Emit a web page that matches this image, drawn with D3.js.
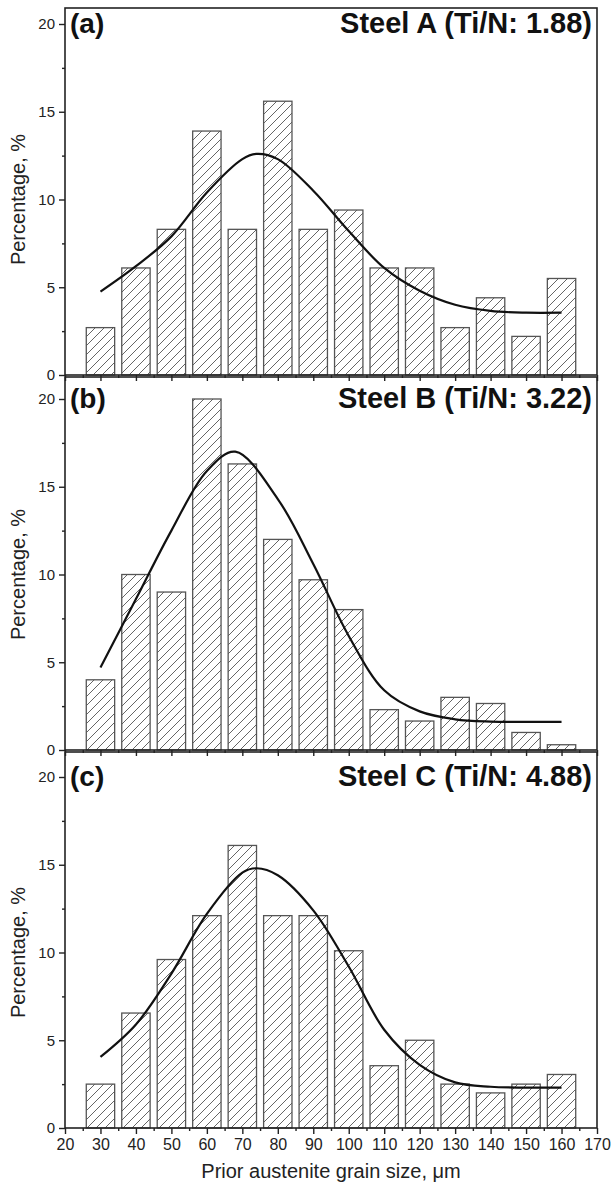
<!DOCTYPE html>
<html>
<head>
<meta charset="utf-8">
<script src="https://cdn.jsdelivr.net/npm/d3@7"></script>
<style>
  body { margin: 0; background: #fff; }
  svg text { font-family: "Liberation Sans", Arial, sans-serif; }
</style>
</head>
<body>
<div id="chart"></div>
<script>
// histogram bins (grain size, um)
const binCenters = [30, 40, 50, 60, 70, 80, 90, 100, 110, 120, 130, 140, 150, 160];
const steelA = [2.7, 6.1, 8.3, 13.9, 8.3, 15.6, 8.3, 9.4, 6.1, 6.1, 2.7, 4.4, 2.2, 5.5];
const steelB = [4.0, 10.0, 9.0, 20.0, 16.3, 12.0, 9.7, 8.0, 2.3, 1.65, 3.0, 2.65, 1.0, 0.3];
const steelC = [2.5, 6.55, 9.6, 12.1, 16.1, 12.1, 12.1, 10.1, 3.55, 5.0, 2.5, 2.0, 2.5, 3.05];

// fitted curves
const fitAx = [30, 40, 50, 60, 70, 74, 80, 90, 100, 110, 120, 130, 140, 150, 160];
const fitAy = [4.75, 6.2, 7.9, 10.4, 12.3, 12.6, 12.3, 10.5, 8.2, 6.1, 4.8, 4.0, 3.65, 3.55, 3.55];
const fitBx = [30, 40, 50, 60, 68, 80, 90, 100, 110, 120, 130, 140, 150, 160];
const fitBy = [4.7, 8.6, 12.5, 15.9, 17.0, 14.3, 10.6, 6.5, 3.4, 2.2, 1.75, 1.62, 1.6, 1.6];
const fitCx = [30, 40, 50, 60, 70, 74, 80, 90, 100, 110, 120, 130, 140, 150, 160];
const fitCy = [4.05, 5.9, 8.8, 12.2, 14.55, 14.8, 14.4, 12.4, 9.2, 5.6, 3.6, 2.6, 2.35, 2.3, 2.3];

const panelTags = ['(a)', '(b)', '(c)'];
const panelTitles = ['Steel A (Ti/N: 1.88)', 'Steel B (Ti/N: 3.22)', 'Steel C (Ti/N: 4.88)'];
const yTicks = [0, 5, 10, 15, 20];
const xTicks = [20, 30, 40, 50, 60, 70, 80, 90, 100, 110, 120, 130, 140, 150, 160, 170];

const width = 611;
const height = 1184;
const left = 65;
const right = 597;
const panelTops = [8, 377, 752];
const panelBottoms = [375, 750, 1128];
const span20 = 351;   // pixels from 0 to 20 %

const svg = d3.select('#chart').append('svg')
  .attr('width', width)
  .attr('height', height);

// hatch pattern for the bars
const defs = svg.append('defs');
const pat = defs.append('pattern')
  .attr('id', 'hatch')
  .attr('patternUnits', 'userSpaceOnUse')
  .attr('width', 9)
  .attr('height', 9);
pat.append('rect').attr('width', 9).attr('height', 9).attr('fill', '#fff');
pat.append('path')
  .attr('d', 'M-2,11 L11,-2 M-2,2 L2,-2 M7,11 L11,7')
  .attr('stroke', '#666')
  .attr('stroke-width', 1);

const x = d3.scaleLinear().domain([20, 170]).range([left, right]);
const barW = x(28) - x(20);

const panels = [
  {bars: steelA, fx: fitAx, fy: fitAy},
  {bars: steelB, fx: fitBx, fy: fitBy},
  {bars: steelC, fx: fitCx, fy: fitCy}
];

panels.forEach((p, i) => {
  const bottom = panelBottoms[i];
  const top = panelTops[i];
  const y = d3.scaleLinear().domain([0, 20]).range([bottom, bottom - span20]);
  const g = svg.append('g');

  // bars
  g.selectAll('rect.bar')
    .data(binCenters)
    .enter()
    .append('rect')
      .attr('class', 'bar')
      .attr('x', (d) => x(d) - barW / 2)
      .attr('y', (d, j) => y(p.bars[j]))
      .attr('width', barW)
      .attr('height', (d, j) => bottom - y(p.bars[j]))
      .attr('fill', 'url(#hatch)')
      .attr('stroke', '#555')
      .attr('stroke-width', 1.3);

  // fit line
  const line = d3.line()
    .x((d) => x(d[0]))
    .y((d) => y(d[1]))
    .curve(d3.curveCatmullRom.alpha(0.5));
  g.append('path')
    .datum(p.fx.map((v, j) => [v, p.fy[j]]))
    .attr('d', line)
    .attr('fill', 'none')
    .attr('stroke', '#111')
    .attr('stroke-width', 2.2);

  // frame
  g.append('rect')
    .attr('x', left)
    .attr('y', top)
    .attr('width', right - left)
    .attr('height', bottom - top)
    .attr('fill', 'none')
    .attr('stroke', '#222')
    .attr('stroke-width', 1.6);

  // y axis: major + minor ticks
  const yAxis = g.append('g')
    .attr('transform', `translate(${left}, 0)`)
    .call(d3.axisLeft(y).tickValues(yTicks).tickSize(6).tickPadding(4));
  yAxis.select('.domain').remove();
  yAxis.selectAll('line').attr('stroke', '#222').attr('stroke-width', 1.4);
  yAxis.selectAll('text')
    .attr('font-size', 15)
    .attr('fill', '#222');
  const yMinor = g.append('g')
    .attr('transform', `translate(${left}, 0)`)
    .call(d3.axisLeft(y).tickValues([2.5, 7.5, 12.5, 17.5]).tickSize(3).tickFormat(''));
  yMinor.select('.domain').remove();
  yMinor.selectAll('line').attr('stroke', '#222').attr('stroke-width', 1.4);

  // x axis
  const xAxis = g.append('g')
    .attr('transform', `translate(0, ${bottom})`)
    .call(d3.axisBottom(x).tickValues(xTicks).tickSize(6).tickPadding(5)
      .tickFormat(i === 2 ? d3.format('d') : ''));
  xAxis.select('.domain').remove();
  xAxis.selectAll('line').attr('stroke', '#222').attr('stroke-width', 1.4);
  xAxis.selectAll('text').attr('font-size', 16).attr('fill', '#222');
  const xMinor = g.append('g')
    .attr('transform', `translate(0, ${bottom})`)
    .call(d3.axisBottom(x).tickValues(d3.range(25, 170, 10)).tickSize(3).tickFormat(''));
  xMinor.select('.domain').remove();
  xMinor.selectAll('line').attr('stroke', '#222').attr('stroke-width', 1.4);

  // tag and title
  g.append('text')
    .attr('x', left + 5)
    .attr('y', y(20) + 9)
    .attr('font-size', 28)
    .attr('font-weight', 'bold')
    .attr('fill', '#111')
    .text(panelTags[i]);
  g.append('text')
    .attr('x', right - 5)
    .attr('y', y(20) + 9)
    .attr('text-anchor', 'end')
    .attr('font-size', 29)
    .attr('font-weight', 'bold')
    .attr('fill', '#111')
    .text(panelTitles[i]);

  // y label
  g.append('text')
    .attr('transform', `translate(25, ${(y(0) + y(20)) / 2}) rotate(-90)`)
    .attr('text-anchor', 'middle')
    .attr('font-size', 20)
    .attr('fill', '#222')
    .text('Percentage, %');
});

// x label
svg.append('text')
  .attr('x', (left + right) / 2)
  .attr('y', 1178)
  .attr('text-anchor', 'middle')
  .attr('font-size', 20)
  .attr('fill', '#222')
  .text('Prior austenite grain size, \u03bcm');
</script>
</body>
</html>
